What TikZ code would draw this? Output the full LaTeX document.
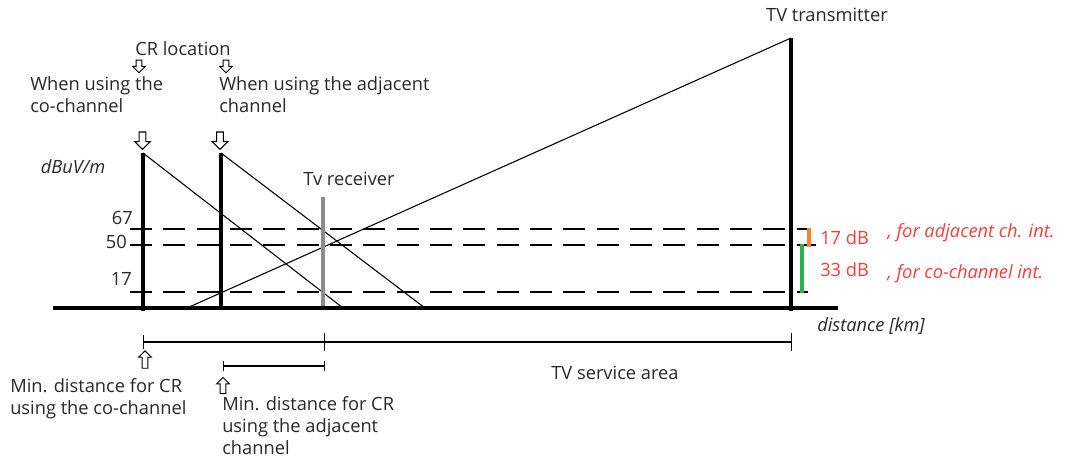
\documentclass[tikz,border=0pt]{standalone}
\usepackage{fontspec}
\setmainfont{Open Sans}
\usetikzlibrary{arrows.meta, positioning, shapes.arrows}
\definecolor{txtred}{RGB}{250,60,60}
\definecolor{baror}{RGB}{255,130,40}
\definecolor{bargr}{RGB}{40,180,80}
\definecolor{txtdark}{RGB}{40,40,40}
\newcommand{\lblfont}{\fontsize{13.7}{16.5}\selectfont}
\tikzstyle{pole} = [line width=3pt]
\tikzstyle{rxpole} = [line width=2.4pt, draw=black!45]
\tikzstyle{field} = [line width=0.8pt]
\tikzstyle{level} = [line width=0.9pt, dash pattern=on 16.5pt off 8.5pt]
\tikzstyle{dim} = [line width=0.9pt]
\tikzstyle{txt} = [inner sep=0pt, text=txtdark, font=\lblfont]
\tikzstyle{redtxt} = [inner sep=0pt, text=txtred, font=\lblfont]
\tikzstyle{bigarrow} = [single arrow, draw, fill=white, line width=0.8pt, minimum height=13pt, inner sep=2.1pt, single arrow head extend=3.3pt, shape border rotate=270]
\tikzstyle{smallarrow} = [single arrow, draw, fill=white, line width=0.7pt, minimum height=9.5pt, inner sep=1.8pt, single arrow head extend=2.6pt]

\begin{document}
\begin{tikzpicture}[x=0.75pt, y=-0.75pt]
      \useasboundingbox (0,0) rectangle (1066,467);

      % ground and poles
      \coordinate (gw) at (53,308);
      \coordinate (ge) at (838,308);
      \coordinate (cotop) at (143,153);
      \coordinate (cobot) at (143,311);
      \coordinate (adjtop) at (221,153);
      \coordinate (adjbot) at (221,309);
      \coordinate (rxtop) at (323,197);
      \coordinate (rxbot) at (323,308);
      \coordinate (txtop) at (791,38);
      \coordinate (txbot) at (791,311);
      \coordinate (coend) at (343,308);
      \coordinate (adjend) at (425,308);
      \coordinate (txend) at (187,308);

      % dB levels
      \coordinate (l67w) at (130,229);
      \coordinate (l67e) at (808,229);
      \coordinate (l50w) at (130,245);
      \coordinate (l50e) at (816,245);
      \coordinate (l17w) at (130,292);
      \coordinate (l17e) at (808,292);
      \draw [level] (l67w) -- (l67e);
      \draw [level] (l50w) -- (l50e);
      \draw [level] (l17w) -- (l17e);

      \draw [field] (cotop) -- (coend);
      \draw [field] (adjtop) -- (adjend);
      \draw [field] (txtop) -- (txend);
      \draw [rxpole] (rxtop) -- (rxbot);
      \draw [pole] (gw) -- (ge);
      \draw [pole] (cotop) -- (cobot);
      \draw [pole] (adjtop) -- (adjbot);
      \draw [pole] (txtop) -- (txbot);

      % margin bars
      \coordinate (ortop) at (809,228);
      \coordinate (orbot) at (809,247);
      \coordinate (grtop) at (802,244);
      \coordinate (grbot) at (802,293);
      \draw [line width=2.4pt, baror] (ortop) -- (orbot);
      \draw [line width=2.4pt, bargr] (grtop) -- (grbot);

      % distances
      \coordinate (dco) at (143,342);
      \coordinate (drx) at (325,342);
      \coordinate (dtx) at (792,342);
      \coordinate (dadj) at (223,366);
      \coordinate (drx2) at (325,366);
      \draw [dim, {Bar[width=10pt]}-{Bar[width=13pt]}] (dco) -- (drx);
      \draw [dim, -{Bar[width=13pt]}] (drx) -- (dtx);
      \draw [dim, {Bar[width=8pt]}-{Bar[width=8pt]}] (dadj) -- (drx2);

      % arrows
      \node (acr1) [smallarrow, shape border rotate=270] at (139,65) {};
      \node (acr2) [smallarrow, shape border rotate=270] at (226,65) {};
      \node (aco) [bigarrow] at (142.5,139) {};
      \node (aadj) [bigarrow] at (220,139) {};
      \node (amco) [smallarrow, minimum height=13pt, shape border rotate=90] at (145,361) {};
      \node (amadj) [smallarrow, minimum height=12pt, shape border rotate=90] at (223,387) {};

      % labels
      \node (lbltx) [txt] at (827,15) {TV transmitter};
      \node (lblcr) [txt] at (183,49) {CR location};
      \node (lblco) [txt, anchor=north west, align=left] at (30,76) {When using the\\co-channel};
      \node (lbladj) [txt, anchor=north west, align=left] at (219,76) {When using the adjacent\\channel};
      \node (lblunit) [txt, font=\lblfont\itshape] at (73,167) {dBuV/m};
      \node (lblrx) [txt] at (349,179) {Tv receiver};
      \node (lbl67) [txt, anchor=east] at (133,218) {67};
      \node (lbl50) [txt, anchor=east] at (127,242) {50};
      \node (lbl17) [txt, anchor=east] at (132,279) {17};
      \node (lbl17db) [redtxt, anchor=west] at (820,238) {17 dB};
      \node (lbl33db) [redtxt, anchor=west] at (820,270) {33 dB};
      \node (lbladjint) [redtxt, anchor=west, font=\lblfont\itshape] at (887,233) {, for adjacent ch. int.};
      \node (lblcoint) [redtxt, anchor=west, font=\lblfont\itshape] at (887,274) {, for co-channel int.};
      \node (lbldist) [txt, anchor=west, font=\lblfont\itshape] at (817,326) {distance [km]};
      \node (lblarea) [txt] at (615,373) {TV service area};
      \node (lblminco) [txt, anchor=north west, align=left] at (10,378) {Min. distance for CR\\using the co-channel};
      \node (lblminadj) [txt, anchor=north west, align=left] at (222,396) {Min. distance for CR\\using the adjacent\\channel};
    \end{tikzpicture}
\end{document}
